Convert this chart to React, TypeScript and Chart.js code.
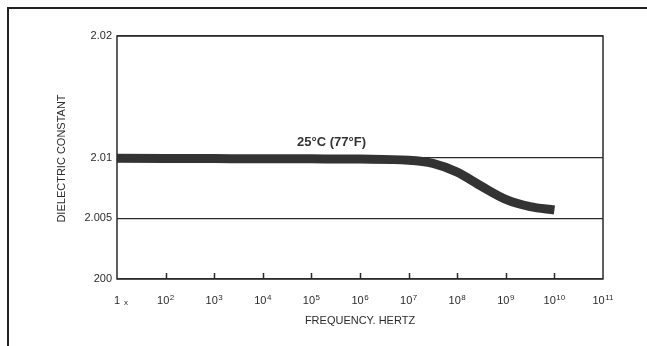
import React, { useEffect, useRef } from "react";
import { Chart, registerables } from "chart.js";

Chart.register(...registerables);

// Frequency (Hz) and measured dielectric constant at 25°C
const frequencies = [10, 1e2, 1e3, 1e4, 1e5, 1e6, 1e7, 3.16e7, 1e8, 3.16e8, 1e9, 3.16e9, 1e10];
const dielectric = [
  2.00993, 2.00992, 2.00991, 2.0099, 2.00989, 2.00987, 2.00978, 2.00952, 2.0088, 2.00763, 2.00655,
  2.00595, 2.00568,
];

// Axis ticks and their printed labels (base + superscript exponent)
const xTickValues = [10, 1e2, 1e3, 1e4, 1e5, 1e6, 1e7, 1e8, 1e9, 1e10, 1e11];
const xTickBases = ["1", "10", "10", "10", "10", "10", "10", "10", "10", "10", "10"];
const xTickExponents = ["x", "2", "3", "4", "5", "6", "7", "8", "9", "10", "11"];
const yTickValues = [2.0, 2.005, 2.01, 2.02];
const yTickLabels = ["200", "2.005", "2.01", "2.02"];

const xTitle = "FREQUENCY. HERTZ";
const yTitle = "DIELECTRIC CONSTANT";
const curveLabel = "25°C (77°F)";
const curveLabelAt = { x: 2.6e5, y: 2.01128 };

const INK = "#2b2b2b";
const FONT = "'Liberation Sans', Arial, Helvetica, sans-serif";

const decorations = {
  id: "decorations",
  beforeDraw(chart: any) {
    const { ctx, width, height } = chart;
    ctx.save();
    ctx.fillStyle = "#ffffff";
    ctx.fillRect(0, 0, width, height);
    // outer frame (top and left edges)
    ctx.strokeStyle = "#222222";
    ctx.lineWidth = 2;
    ctx.beginPath();
    ctx.moveTo(8, height);
    ctx.lineTo(8, 8);
    ctx.lineTo(width, 8);
    ctx.stroke();
    ctx.restore();
  },
  afterDraw(chart: any) {
    const { ctx, chartArea } = chart;
    const xs = chart.scales.x;
    const ys = chart.scales.y;
    ctx.save();
    // plot box
    ctx.strokeStyle = INK;
    ctx.lineWidth = 1.5;
    ctx.strokeRect(chartArea.left, chartArea.top, chartArea.right - chartArea.left, chartArea.bottom - chartArea.top);

    // inward tick marks along the frequency axis
    ctx.beginPath();
    for (let i = 1; i < xTickValues.length - 1; i++) {
      const px = Math.round(xs.getPixelForValue(xTickValues[i])) + 0.5;
      ctx.moveTo(px, chartArea.bottom);
      ctx.lineTo(px, chartArea.bottom - 6);
    }
    ctx.stroke();

    // frequency tick labels with superscript exponents
    ctx.fillStyle = INK;
    ctx.textBaseline = "alphabetic";
    ctx.textAlign = "left";
    const baseFont = `11px ${FONT}`;
    const expFont = `8px ${FONT}`;
    const labelBaseline = 304;
    for (let i = 0; i < xTickValues.length; i++) {
      const base = xTickBases[i];
      const exp = xTickExponents[i];
      const first = i === 0;
      ctx.font = baseFont;
      const bw = ctx.measureText(base).width;
      ctx.font = expFont;
      const gap = first ? 4 : 0.5;
      const ew = ctx.measureText(exp).width;
      const total = bw + gap + ew;
      const cx = xs.getPixelForValue(xTickValues[i]) + (first ? 4 : 0);
      const x0 = cx - total / 2;
      ctx.font = baseFont;
      ctx.fillText(base, x0, labelBaseline);
      ctx.font = expFont;
      ctx.fillText(exp, x0 + bw + gap, first ? labelBaseline + 1 : labelBaseline - 4);
    }

    // axis titles
    ctx.font = `11px ${FONT}`;
    ctx.textAlign = "center";
    ctx.textBaseline = "middle";
    ctx.fillText(xTitle, (chartArea.left + chartArea.right) / 2, 321);
    ctx.save();
    ctx.translate(62, (chartArea.top + chartArea.bottom) / 2 + 1);
    ctx.rotate(-Math.PI / 2);
    ctx.fillText(yTitle, 0, 0);
    ctx.restore();

    // curve label
    ctx.font = `bold 13px ${FONT}`;
    ctx.fillStyle = "#333333";
    ctx.fillText(curveLabel, xs.getPixelForValue(curveLabelAt.x), ys.getPixelForValue(curveLabelAt.y));
    ctx.restore();
  },
};

export default function App() {
  const canvasRef = useRef<HTMLCanvasElement | null>(null);

  useEffect(() => {
    const canvas = canvasRef.current;
    if (!canvas) return;
    const chart = new Chart(canvas, {
      type: "line",
      data: {
        datasets: [
          {
            data: frequencies.map((f, i) => ({ x: f, y: dielectric[i] })),
            borderColor: "#333333",
            borderWidth: 9,
            borderCapStyle: "butt",
            borderJoinStyle: "round",
            cubicInterpolationMode: "monotone",
            pointRadius: 0,
            fill: false,
          },
        ],
      },
      options: {
        responsive: false,
        animation: false,
        events: [],
        layout: { padding: { top: 36, right: 44, left: 0, bottom: 0 } },
        plugins: { legend: { display: false }, tooltip: { enabled: false } },
        scales: {
          x: {
            type: "logarithmic",
            min: 10,
            max: 1e11,
            afterBuildTicks: (scale: any) => {
              scale.ticks = xTickValues.map((v) => ({ value: v }));
            },
            afterFit: (scale: any) => {
              scale.height = 67;
            },
            grid: { display: false, drawTicks: false },
            border: { display: false },
            ticks: { display: false, autoSkip: false, maxRotation: 0 },
          },
          y: {
            type: "linear",
            min: 2.0,
            max: 2.02,
            afterBuildTicks: (scale: any) => {
              scale.ticks = yTickValues.map((v) => ({ value: v }));
            },
            afterFit: (scale: any) => {
              scale.width = 117;
            },
            grid: { color: INK, lineWidth: 1.2, drawTicks: false },
            border: { display: false },
            ticks: {
              padding: 5,
              color: INK,
              font: { family: FONT, size: 11 },
              callback: (value: any) => {
                const i = yTickValues.findIndex((v) => Math.abs(v - Number(value)) < 1e-7);
                return i >= 0 ? yTickLabels[i] : "";
              },
            },
          },
        },
      },
      plugins: [decorations],
    } as any);
    return () => chart.destroy();
  }, []);

  return (
    <div style={{ position: "absolute", left: 0, top: 0, width: 647, height: 346 }}>
      <canvas ref={canvasRef} width={647} height={346} style={{ display: "block" }} />
    </div>
  );
}
